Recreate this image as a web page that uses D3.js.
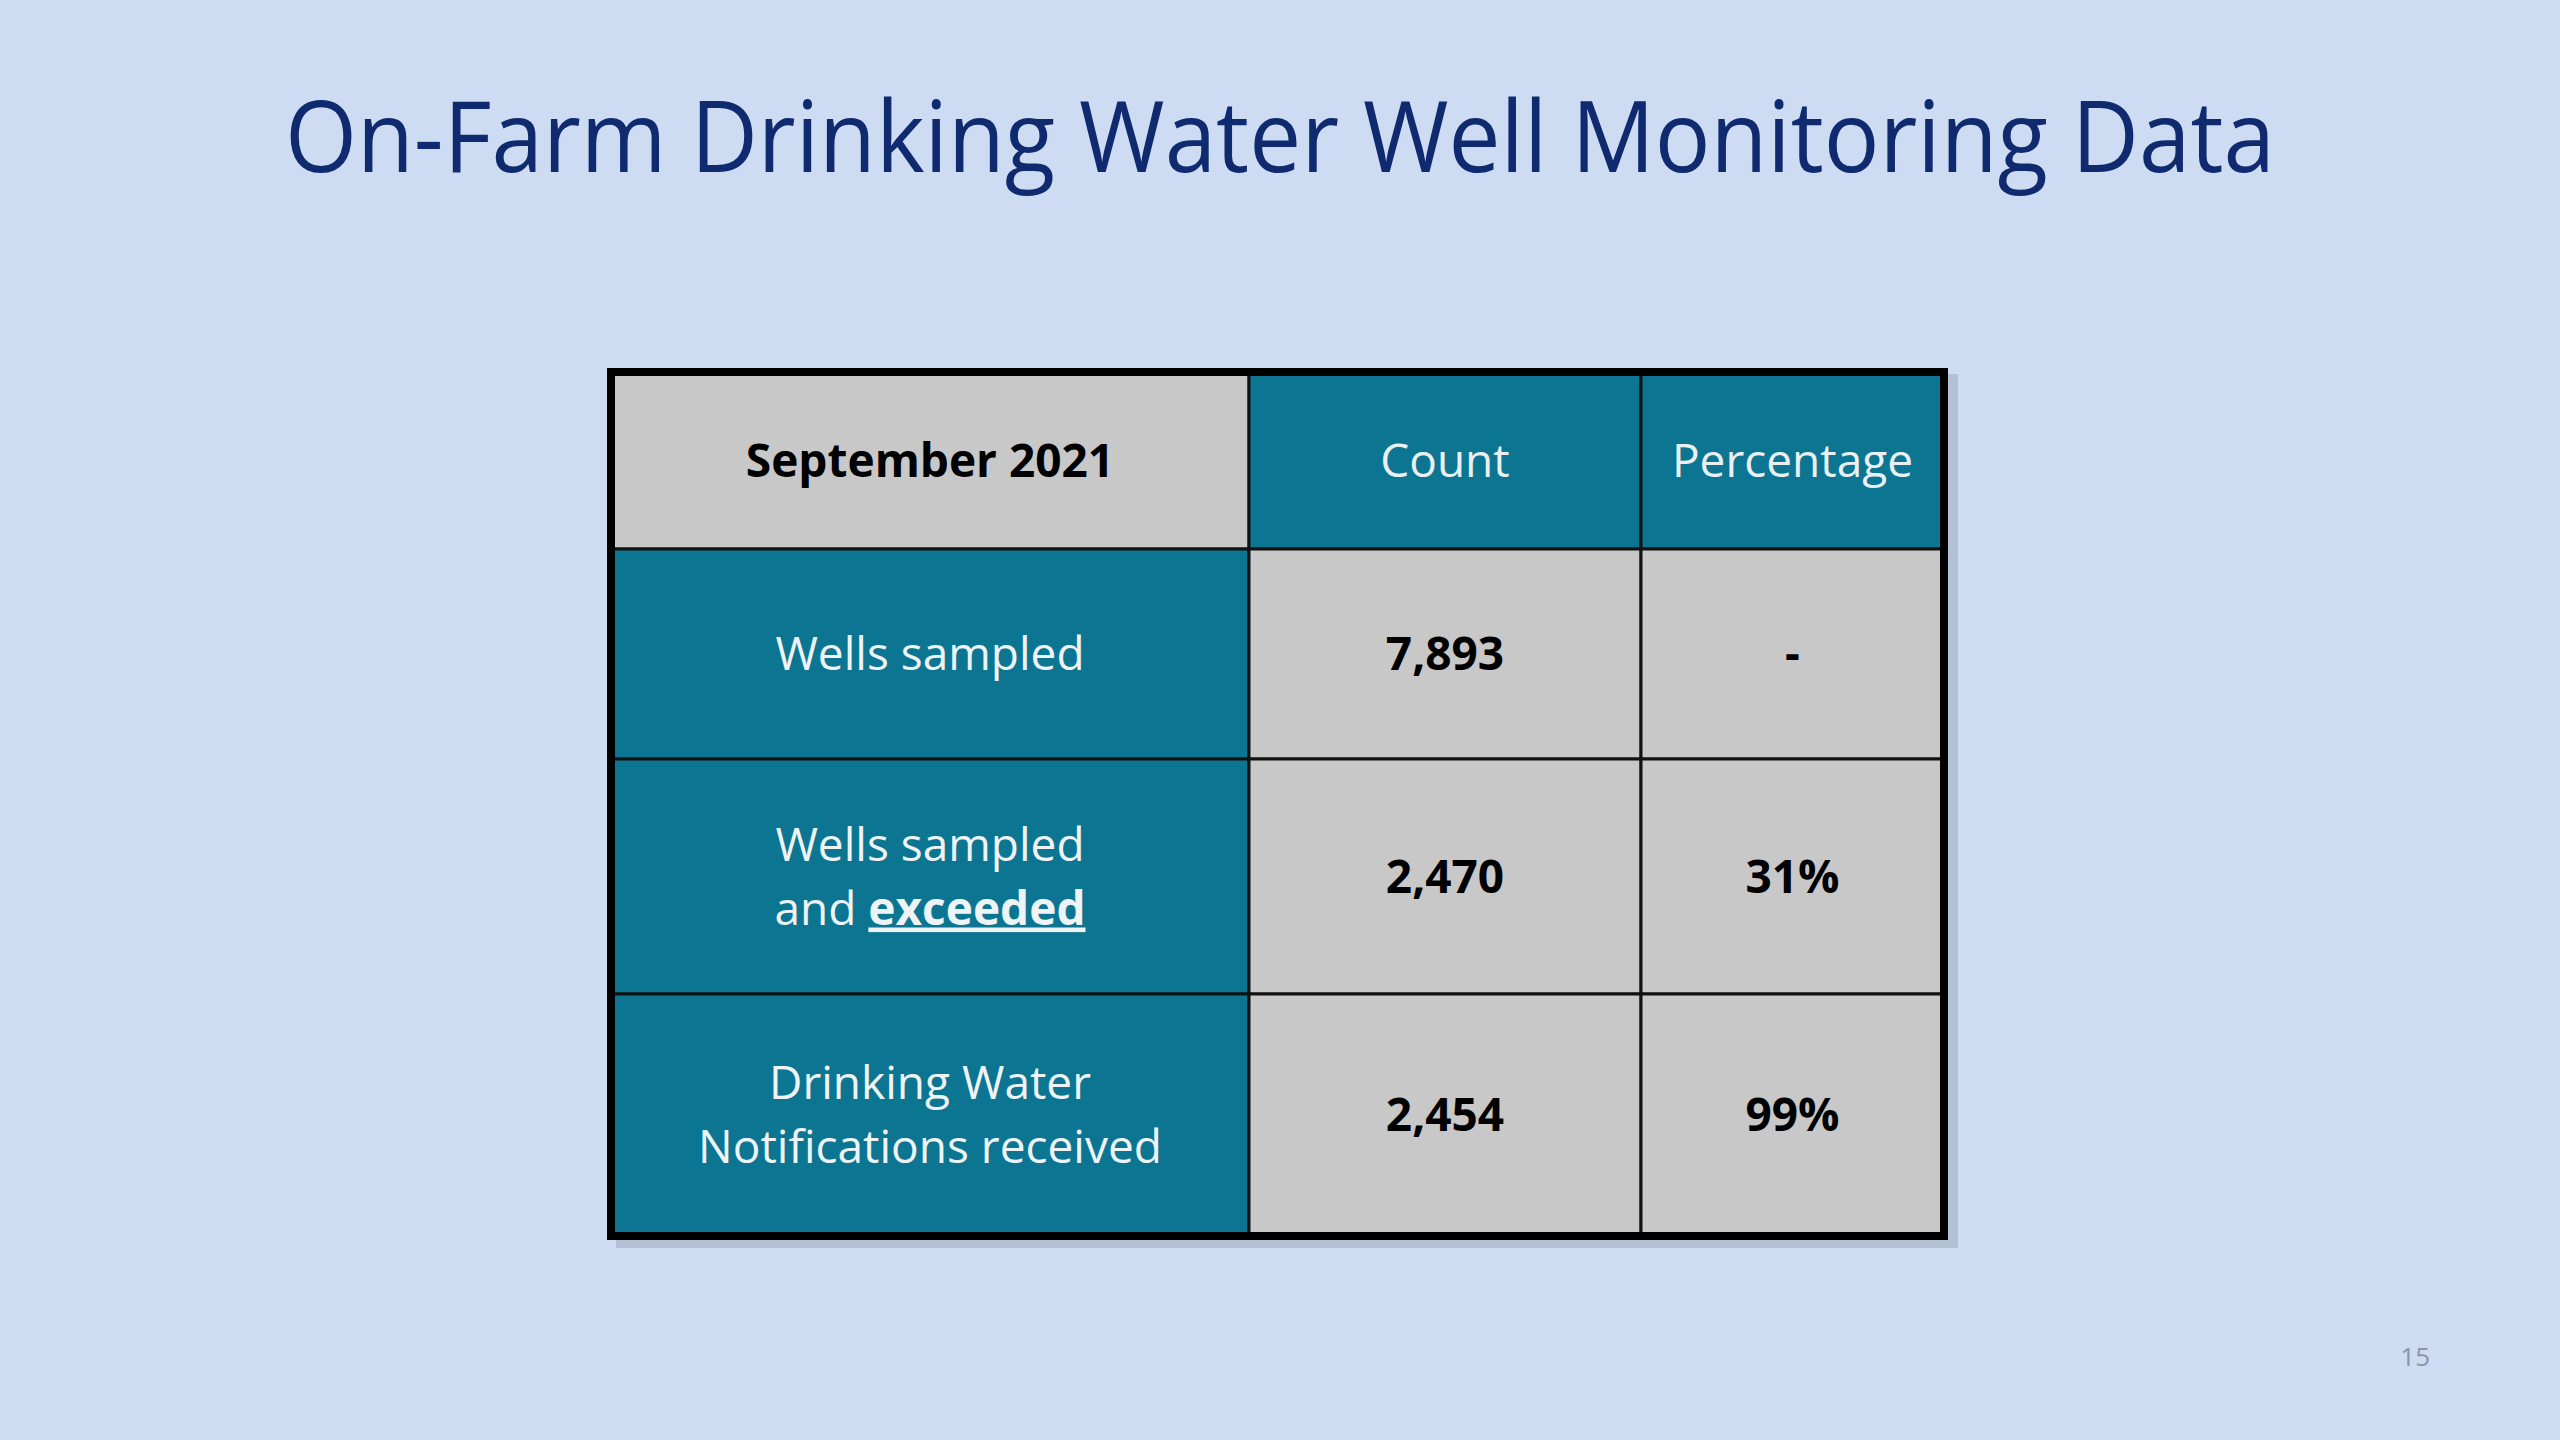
<!DOCTYPE html>
<html><head><meta charset="utf-8">
<script src="https://cdn.jsdelivr.net/npm/d3@7"></script>
<style>body{margin:0;background:#cddcf2;}svg{display:block;}</style>
</head><body><svg id="c" width="2560" height="1440"></svg>
<script>
  'use strict';
  var title = "On-Farm Drinking Water Well Monitoring Data";
  var headers = ["September 2021", "Count", "Percentage"];
  var rowLabels = [["Wells sampled"], ["Wells sampled", "and |exceeded"], ["Drinking Water", "Notifications received"]];
  var counts = [7893, 2470, 2454];
  var percentages = ["-", "31%", "99%"];
  var pageNo = "15";

  var svg = d3.select('#c');
  var font = "'Liberation Sans Narrow','Open Sans',sans-serif";
  var teal = '#0c7591', grey = '#c8c8c8';

  // layout
  var colEdges = [611, 1249, 1641, 1944];
  var rowEdges = [372, 549, 759, 994, 1236];
  var x = function(i) { return colEdges[i]; };
  var y = d3.scaleOrdinal().domain(d3.range(5)).range(rowEdges);

  svg.append('text').attr('x', 1280).attr('y', 172).attr('text-anchor', 'middle')
    .attr('font-family', "'Open Sans',sans-serif").attr('font-size', 98).attr('fill', '#0f2a6e')
    .attr('textLength', 1990).attr('lengthAdjust', 'spacingAndGlyphs').text(title);

  // shadow
  svg.append('rect').attr('x', 616).attr('y', 374).attr('width', 1342).attr('height', 874).attr('fill', '#9aa6b6').attr('opacity', 0.5);

  var cells = [];
  headers.forEach(function(h, c) { cells.push({r: 0, c: c, fill: c === 0 ? grey : teal, lines: [h], bold: c === 0, color: c === 0 ? '#000' : '#e8f0f4'}); });
  rowLabels.forEach(function(l, r) {
    cells.push({r: r + 1, c: 0, fill: teal, lines: l, bold: false, color: '#eef4f6'});
    cells.push({r: r + 1, c: 1, fill: grey, lines: [d3.format(',')(counts[r])], bold: true, color: '#000'});
    cells.push({r: r + 1, c: 2, fill: grey, lines: [percentages[r]], bold: true, color: '#000'});
  });

  var g = svg.selectAll('g.cell').data(cells).enter().append('g');
  g.append('rect').attr('x', function(d) { return x(d.c); }).attr('y', function(d) { return y(d.r); })
    .attr('width', function(d) { return x(d.c + 1) - x(d.c); }).attr('height', function(d) { return y(d.r + 1) - y(d.r); })
    .attr('fill', function(d) { return d.fill; }).attr('stroke', '#111').attr('stroke-width', 3);

  g.each(function(d) {
    var cx = (x(d.c) + x(d.c + 1)) / 2, cy = (y(d.r) + y(d.r + 1)) / 2;
    var lh = 64, y0 = cy - (d.lines.length - 1) * lh / 2 + 16;
    var sel = d3.select(this);
    d.lines.forEach(function(line, i) {
      var t = sel.append('text').attr('x', cx).attr('y', y0 + i * lh).attr('text-anchor', 'middle')
        .attr('font-family', "'Open Sans',sans-serif").attr('font-size', 46)
        .attr('font-weight', d.bold ? 700 : 400).attr('fill', d.color);
      var parts = line.split('|');
      t.append('tspan').text(parts[0]);
      if (parts[1]) t.append('tspan').attr('font-weight', 700).attr('text-decoration', 'underline').text(parts[1]);
    });
  });

  // outer border
  svg.append('rect').attr('x', 611).attr('y', 372).attr('width', 1333).attr('height', 864)
    .attr('fill', 'none').attr('stroke', '#000').attr('stroke-width', 8);

  svg.append('text').attr('x', 2430).attr('y', 1366).attr('text-anchor', 'end')
    .attr('font-family', "'Open Sans',sans-serif").attr('font-size', 26).attr('fill', '#8a94a6').text(pageNo);
</script></body></html>
